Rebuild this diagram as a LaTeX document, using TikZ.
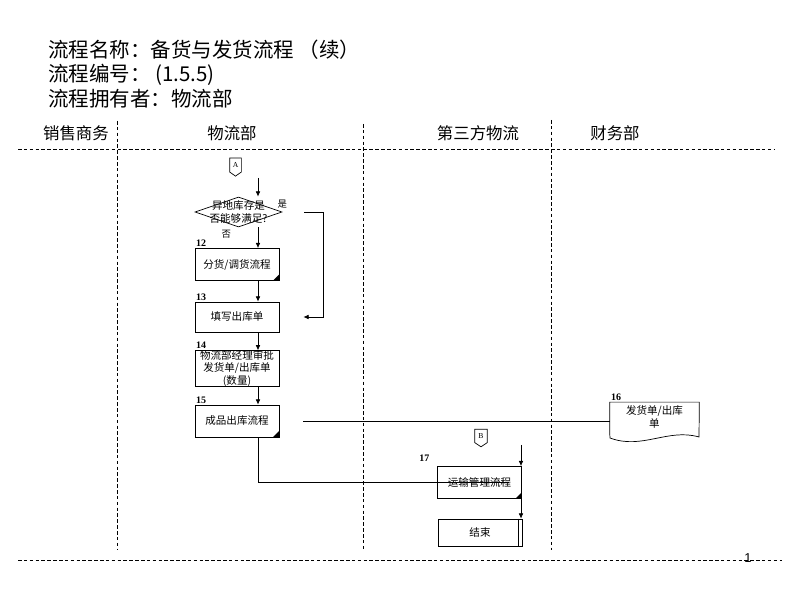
\documentclass[tikz,border=0pt]{standalone}
\usepackage{fontspec}
\setmainfont{Noto Sans CJK SC}
\newfontfamily\numfont{Liberation Serif}
\newfontfamily\pgfont{Liberation Sans}
\usetikzlibrary{positioning,shapes.geometric,arrows.meta,calc}

\begin{document}
\begin{tikzpicture}[x=0.03cm,y=-0.03cm,line width=0.6pt,
    lane/.style={dash pattern=on 3pt off 2pt,line width=0.7pt},
    arr/.style={-{Latex[length=4.5pt,width=4pt]}},
    proc/.style={draw,minimum width=2.52cm,minimum height=0.96cm,inner sep=0pt,align=center,
        font=\fontsize{9}{10.5}\selectfont,
        path picture={\fill ([xshift=-5pt]path picture bounding box.south east)
            -- (path picture bounding box.south east)
            -- ([yshift=5pt]path picture bounding box.south east) -- cycle;}},
    num/.style={font=\numfont\bfseries\fontsize{8.5}{10}\selectfont,inner sep=1pt},
    lbl/.style={font=\fontsize{8}{9}\selectfont,inner sep=1pt},
    head/.style={font=\fontsize{14}{16}\selectfont},
    title/.style={font=\fontsize{17.5}{20}\selectfont,anchor=west,inner sep=0pt}]
        \useasboundingbox (0,0) rectangle (800,600);

        \node[title] (t1) at (48,50) {流程名称：备货与发货流程 （续）};
        \node[title] (t2) at (48,75) {流程编号： (1.5.5)};
        \node[title] (t3) at (48,99) {流程拥有者：物流部};

        \node[head] (h1) at (76,133) {销售商务};
        \node[head] (h2) at (232,133) {物流部};
        \node[head] (h3) at (478,133) {第三方物流};
        \node[head] (h4) at (615,133) {财务部};

        \draw[lane] (18,149) -- (775,149);
        \draw[lane] (18,560) -- (782,560);
        \draw[lane] (117,121) -- (117,550);
        \draw[lane] (363,124) -- (363,550);
        \draw[lane] (551,120) -- (551,550);
        \node[font=\pgfont\fontsize{11}{12}\selectfont] (pg) at (748,558) {1};

        % connector A
        \node[inner sep=0pt,minimum width=0.33cm,minimum height=0.4cm,font=\numfont\fontsize{6.5}{7}\selectfont] (cA) at (235.5,165) {A};
        \draw (cA.north west) -- (cA.north east) -- (cA.south east) -- ($(cA.south)+(0,-3.5pt)$) -- (cA.south west) -- cycle;

        \node[diamond,draw,minimum width=2.61cm,minimum height=0.9cm,inner sep=0pt] (dec) at (238.5,212) {};
        \node[align=center,font=\fontsize{9}{10.5}\selectfont,inner sep=0pt] (dectxt) at (dec) {异地库存是\\否能够满足?};
        \node[lbl,above=2pt of dec.east] (yes) {是};
        \node[lbl,below left=1pt and 5pt of dec.south] (no) {否};

        \node[proc] (b12) at (237,264.5) {分货/调货流程};
        \node[proc,minimum height=0.9cm,path picture={}] (b13) at (237,317) {填写出库单};
        \node[proc,path picture={}] (b14) at (237,368.5) {物流部经理审批\\发货单/出库单\\(数量)};
        \node[proc] (b15) at (237,421) {成品出库流程};
        \node[num,above right=0pt and 0pt of b12.north west] {12};
        \node[num,above right=0pt and 0pt of b13.north west] {13};
        \node[num,above right=0pt and 0pt of b14.north west] {14};
        \node[num,above right=0pt and 0pt of b15.north west] {15};

        \coordinate (col) at (258,0);
        \coordinate (inA) at (258,178);
        \draw[arr] (inA) -- (inA |- dec.north);
        \draw[arr] (col |- dec.south) -- (col |- b12.north);
        \draw[arr] (col |- b12.south) -- (col |- b13.north);
        \draw[arr] (col |- b13.south) -- (col |- b14.north);
        \draw[arr] (col |- b14.south) -- (col |- b15.north);

        \coordinate (yesE) at (304,212);
        \draw[arr] (yesE) -- ++(19,0) |- ([xshift=0.72cm]b13.east);

        % document 16
        \node[inner sep=0pt,minimum width=2.67cm,minimum height=0.87cm,align=center,
            font=\fontsize{9}{11}\selectfont] (d16) at (654.5,417) {发货单/出库\\单};
        \draw (d16.south west) -- (d16.north west) -- (d16.north east) -- (699,437)
            .. controls (668,428) and (642,450) .. (610,438) -- cycle;
        \node[num,above right=0pt and 0pt of d16.north west] {16};
        \draw ([xshift=0.72cm]b15.east) -- (b15.east -| d16.west);

        % connector B
        \node[inner sep=0pt,minimum width=0.35cm,minimum height=0.38cm,font=\numfont\fontsize{6.5}{7}\selectfont] (cB) at (481,436) {B};
        \draw (cB.north west) -- (cB.north east) -- (cB.south east) -- ($(cB.south)+(0,-3.5pt)$) -- (cB.south west) -- cycle;

        \node[proc] (b17) at (479.5,482.5) {运输管理流程};
        \node[num,above=3pt of b17.north west,xshift=-11pt] {17};
        \node[proc,minimum height=0.81cm,path picture={}] (end) at (480,532.5) {结束};
        \draw ([xshift=-3pt]end.north east) -- ([xshift=-3pt]end.south east);

        \coordinate (inB) at (521,445);
        \draw[arr] (inB) -- (inB |- b17.north);
        \draw[arr] (inB |- b17.south) -- (inB |- end.north);
        \draw (col |- b15.south) |- ([xshift=-0.4cm]b17.east);
      \end{tikzpicture}
\end{document}
